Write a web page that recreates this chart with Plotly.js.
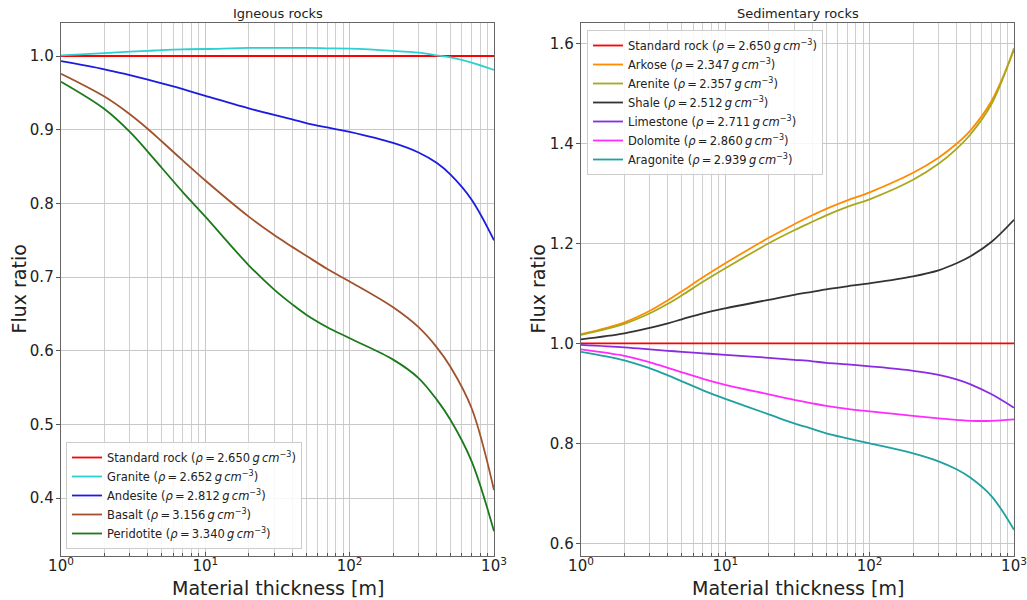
<!DOCTYPE html>
<html>
<head>
<meta charset="utf-8">
<script src="https://cdn.plot.ly/plotly-3.0.1.min.js"></script>
<style>html,body{margin:0;padding:0;background:#fff;}#chart{width:1027px;height:600px;}</style>
</head>
<body>
<div id="chart"></div>
<script>
// Material thickness [m]
const thickness = [1, 2, 3, 4, 5, 7, 10, 20, 30, 40, 50, 70, 100, 200, 300, 400, 500, 700, 1000];

// Igneous rocks
const standardRock = [1, 1, 1, 1, 1, 1, 1, 1, 1, 1, 1, 1, 1, 1, 1, 1, 1, 1, 1];
const granite    = [1.001, 1.004, 1.006, 1.007, 1.008, 1.009, 1.0095, 1.011, 1.011, 1.011, 1.011, 1.0105, 1.010, 1.007, 1.0045, 1.001, 0.998, 0.991, 0.981];
const andesite   = [0.993, 0.982, 0.974, 0.968, 0.963, 0.955, 0.946, 0.929, 0.920, 0.914, 0.909, 0.903, 0.897, 0.882, 0.869, 0.855, 0.839, 0.805, 0.750];
const basalt     = [0.976, 0.945, 0.921, 0.901, 0.884, 0.858, 0.831, 0.782, 0.757, 0.741, 0.729, 0.711, 0.694, 0.659, 0.632, 0.605, 0.578, 0.522, 0.411];
const peridotite = [0.965, 0.928, 0.897, 0.870, 0.848, 0.815, 0.782, 0.716, 0.683, 0.663, 0.649, 0.632, 0.617, 0.588, 0.563, 0.534, 0.506, 0.450, 0.355];

// Sedimentary rocks
const arkose     = [1.018, 1.042, 1.065, 1.086, 1.104, 1.132, 1.160, 1.211, 1.238, 1.256, 1.269, 1.286, 1.302, 1.341, 1.371, 1.399, 1.426, 1.485, 1.587];
const arenite    = [1.017, 1.039, 1.060, 1.079, 1.096, 1.123, 1.150, 1.200, 1.226, 1.243, 1.256, 1.273, 1.288, 1.327, 1.359, 1.389, 1.418, 1.479, 1.590];
const shale      = [1.008, 1.020, 1.031, 1.040, 1.048, 1.060, 1.070, 1.087, 1.097, 1.103, 1.108, 1.114, 1.120, 1.134, 1.146, 1.160, 1.174, 1.203, 1.247];
const limestone  = [0.997, 0.992, 0.988, 0.985, 0.983, 0.980, 0.977, 0.971, 0.967, 0.964, 0.961, 0.958, 0.954, 0.945, 0.937, 0.928, 0.918, 0.898, 0.871];
const dolomite   = [0.988, 0.975, 0.962, 0.951, 0.942, 0.929, 0.917, 0.898, 0.887, 0.880, 0.875, 0.869, 0.864, 0.855, 0.850, 0.847, 0.845, 0.845, 0.848];
const aragonite  = [0.983, 0.966, 0.950, 0.936, 0.924, 0.906, 0.889, 0.858, 0.840, 0.829, 0.820, 0.810, 0.800, 0.780, 0.764, 0.748, 0.731, 0.694, 0.627];

const igneousNames = ["Standard rock", "Granite", "Andesite", "Basalt", "Peridotite"];
const igneousDensity = ["2.650", "2.652", "2.812", "3.156", "3.340"];
const sedNames = ["Standard rock", "Arkose", "Arenite", "Shale", "Limestone", "Dolomite", "Aragonite"];
const sedDensity = ["2.650", "2.347", "2.357", "2.512", "2.711", "2.860", "2.939"];

const xTickVals = [1, 10, 100, 1000];
const xTickText = ["10<sup>0</sup>", "10<sup>1</sup>", "10<sup>2</sup>", "10<sup>3</sup>"];
const yTicksLeft = [0.4, 0.5, 0.6, 0.7, 0.8, 0.9, 1.0];
const yTicksRight = [0.6, 0.8, 1.0, 1.2, 1.4, 1.6];

const igneousSeries = [standardRock, granite, andesite, basalt, peridotite];
const igneousColors = ["#ff0000", "#2cd0d0", "#1c1ce0", "#a0522d", "#1a7a1a"];
const sedSeries = [standardRock, arkose, arenite, shale, limestone, dolomite, aragonite];
const sedColors = ["#ff0000", "#ff8c00", "#a8a81c", "#333333", "#8a2be2", "#ff2cff", "#20a0a0"];

function label(name, rho) {
  return name + " (<i>ρ</i>\u2009=\u2009" + rho + "\u2009<i>g\u2009cm</i><sup>−3</sup>)";
}

const traces = [];
igneousSeries.forEach((s, i) => {
  traces.push({
    x: thickness, y: s, type: "scatter", mode: "lines",
    line: {color: igneousColors[i], width: 1.8, shape: "spline", smoothing: 1},
    name: label(igneousNames[i], igneousDensity[i]),
    xaxis: "x", yaxis: "y", legend: "legend"
  });
});
sedSeries.forEach((s, i) => {
  traces.push({
    x: thickness, y: s, type: "scatter", mode: "lines",
    line: {color: sedColors[i], width: 1.8, shape: "spline", smoothing: 1},
    name: label(sedNames[i], sedDensity[i]),
    xaxis: "x2", yaxis: "y2", legend: "legend2"
  });
});

const minorVals = [];
[1, 10, 100].forEach(d => { for (let k = 2; k <= 9; k++) minorVals.push(k * d); });

const font = "DejaVu Sans, sans-serif";
function xaxis(domain, anchor) {
  return {
    type: "log", domain: domain, anchor: anchor,
    range: [0, 3], tickvals: xTickVals, ticktext: xTickText,
    tickfont: {family: font, size: 15, color: "#222"},
    ticks: "inside", ticklen: 4, tickcolor: "#555", ticklabelstandoff: -4,
    showgrid: true, gridcolor: "#c8c8c8", gridwidth: 1,
    minor: {tickvals: minorVals, showgrid: true, gridcolor: "#cfcfcf", gridwidth: 1, ticks: "inside", ticklen: 3, tickcolor: "#555"},
    showline: true, linecolor: "#666", linewidth: 1.3, mirror: true,
    zeroline: false, automargin: false
  };
}
function yaxis(domain, anchor, range, ticks) {
  return {
    domain: domain, anchor: anchor, range: range,
    tickvals: ticks, ticktext: ticks.map(v => v.toFixed(1)),
    tickfont: {family: font, size: 15, color: "#222"},
    ticks: "outside", ticklen: 4, tickcolor: "#555", ticklabelstandoff: -1,
    showgrid: true, gridcolor: "#c8c8c8", gridwidth: 1,
    showline: true, linecolor: "#666", linewidth: 1.3, mirror: true,
    zeroline: false, automargin: false
  };
}

const W = 1027, H = 600;
const yDom = [(H - 556) / H, (H - 23) / H];

function ann(text, px, py, size, angle) {
  return {text: text, x: px / W, y: 1 - py / H, xref: "paper", yref: "paper",
          xanchor: "center", yanchor: "middle", showarrow: false, textangle: angle || 0,
          font: {family: font, size: size, color: "#222"}};
}

const legendStyle = {
  bgcolor: "rgba(255,255,255,0.85)", bordercolor: "#cccccc", borderwidth: 1,
  font: {family: font, size: 11.5, color: "#222"}, tracegroupgap: 0, itemwidth: 30
};

const layout = {
  width: W, height: H,
  margin: {l: 0, r: 0, t: 0, b: 0},
  paper_bgcolor: "#fff", plot_bgcolor: "#fff",
  showlegend: true,
  xaxis: xaxis([61 / W, 494 / W], "y"),
  yaxis: yaxis(yDom, "x", [0.3215, 1.0448], yTicksLeft),
  xaxis2: xaxis([581 / W, 1014 / W], "y2"),
  yaxis2: yaxis(yDom, "x2", [0.5746, 1.6406], yTicksRight),
  legend: Object.assign({x: 66 / W, y: 1 - 549 / H, xanchor: "left", yanchor: "bottom"}, legendStyle),
  legend2: Object.assign({x: 587 / W, y: 1 - 30 / H, xanchor: "left", yanchor: "top"}, legendStyle),
  annotations: [
    ann("Igneous rocks", (61 + 494) / 2, 13, 13),
    ann("Sedimentary rocks", (581 + 1014) / 2, 13, 13),
    ann("Material thickness [m]", (61 + 494) / 2, 588, 19),
    ann("Material thickness [m]", (581 + 1014) / 2, 588, 19),
    ann("Flux ratio", 19, (23 + 556) / 2, 19, -90),
    ann("Flux ratio", 538, (23 + 556) / 2, 19, -90)
  ]
};

Plotly.newPlot("chart", traces, layout, {displayModeBar: false, staticPlot: true});
</script>
</body>
</html>
